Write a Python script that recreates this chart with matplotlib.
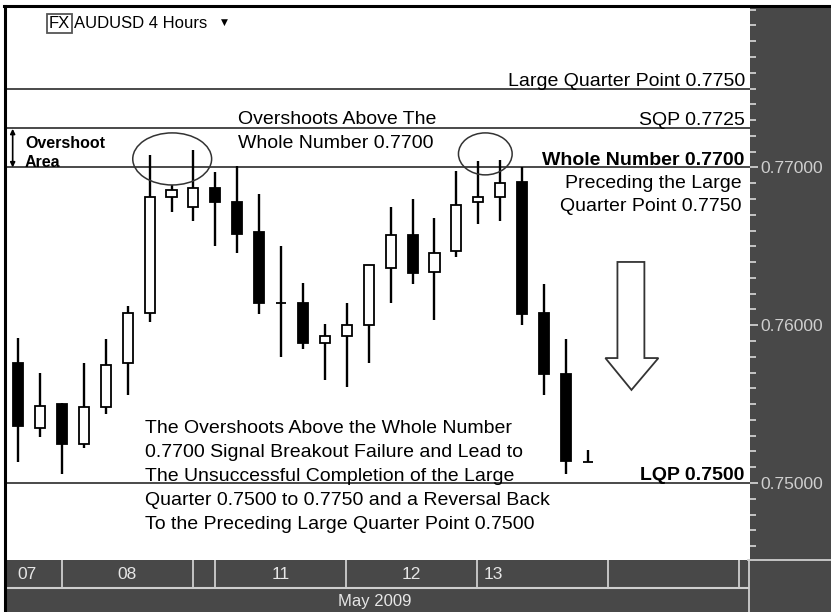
import matplotlib
matplotlib.use("Agg")
import matplotlib.pyplot as plt
from matplotlib.patches import Rectangle, Ellipse, Polygon
from matplotlib.lines import Line2D
from matplotlib.ticker import FixedLocator, MultipleLocator, FormatStrFormatter

plt.rcParams['font.family'] = ['Liberation Sans', 'DejaVu Sans']

# ---------------------------------------------------------------------------
# data: AUDUSD 4h candles, 7-13 May 2009
# ---------------------------------------------------------------------------
opens  = [0.7576, 0.7535, 0.7550, 0.7525, 0.7548, 0.7576, 0.7608, 0.7681, 0.7675,
          0.7687, 0.7678, 0.7659, 0.7614, 0.7614, 0.7589, 0.7593, 0.7600, 0.7636,
          0.7657, 0.7634, 0.7647, 0.7678, 0.7681, 0.7691, 0.7608, 0.7569, 0.7513]
highs  = [0.7592, 0.7570, 0.7551, 0.7576, 0.7591, 0.7612, 0.7708, 0.7689, 0.7711,
          0.7697, 0.7701, 0.7683, 0.7650, 0.7627, 0.7601, 0.7614, 0.7638, 0.7675,
          0.7680, 0.7668, 0.7698, 0.7704, 0.7705, 0.7700, 0.7626, 0.7591, 0.7521]
lows   = [0.7513, 0.7529, 0.7506, 0.7522, 0.7544, 0.7556, 0.7602, 0.7672, 0.7666,
          0.7650, 0.7646, 0.7607, 0.7580, 0.7585, 0.7565, 0.7561, 0.7576, 0.7614,
          0.7626, 0.7603, 0.7643, 0.7664, 0.7666, 0.7600, 0.7556, 0.7506, 0.7513]
closes = [0.7536, 0.7549, 0.7525, 0.7548, 0.7575, 0.7608, 0.7681, 0.7686, 0.7687,
          0.7678, 0.7658, 0.7614, 0.7614, 0.7589, 0.7593, 0.7600, 0.7638, 0.7657,
          0.7633, 0.7646, 0.7676, 0.7681, 0.7690, 0.7607, 0.7569, 0.7514, 0.7513]

price_ticks = [0.75, 0.76, 0.77]

levels = [0.7750, 0.7725, 0.7700, 0.7500]
level_labels = ["Large Quarter Point 0.7750", "SQP 0.7725", "Whole Number 0.7700", "LQP 0.7500"]
level_bold = [False, False, True, True]

day_breaks = [2, 8, 9, 15, 21, 27, 33]
day_labels = ["07", "08", "11", "12", "13"]
day_label_x = [0.4, 5, 12, 18, 21.3]
month_label = "May 2009"

note_top = "Overshoots Above The\nWhole Number 0.7700"
note_right = "Preceding the Large\nQuarter Point 0.7750"
note_bottom = ["The Overshoots Above the Whole Number",
               "0.7700 Signal Breakout Failure and Lead to",
               "The Unsuccessful Completion of the Large",
               "Quarter 0.7500 to 0.7750 and a Reversal Back",
               "To the Preceding Large Quarter Point 0.7500"]

# ---------------------------------------------------------------------------
W, H = 831, 612
DARK = '#484848'
LIGHT = '#cfcfcf'


def px_box(x0, y0, x1, y1):
    return [x0 / W, 1 - y1 / H, (x1 - x0) / W, (y1 - y0) / H]


fig = plt.figure(figsize=(W / 100, H / 100), dpi=100, facecolor=DARK)
fig.patches.append(Rectangle((0, 1 - 6 / H), 1, 6 / H, transform=fig.transFigure,
                             facecolor='white', edgecolor='none'))
fig.patches.append(Rectangle((0, 0), 4 / W, 1, transform=fig.transFigure,
                             facecolor='white', edgecolor='none'))

ax = fig.add_axes(px_box(5, 7, 750, 560), facecolor='white')
ax.set_xlim(-0.6, 33.4)
ax.set_ylim(0.74512, 0.78017)
for s in ax.spines.values():
    s.set_visible(False)
ax.set_xticks([])
ax.yaxis.tick_right()
ax.yaxis.set_major_locator(FixedLocator(price_ticks))
ax.yaxis.set_minor_locator(MultipleLocator(0.001))
ax.yaxis.set_major_formatter(FormatStrFormatter('%.5f'))
ax.tick_params(axis='y', which='major', length=6, width=1.3, colors=LIGHT,
               labelsize=12.5, pad=1.5)
ax.tick_params(axis='y', which='minor', length=4, width=1.3, colors=LIGHT)

# quarter point lines + labels
for lv, txt, bold in zip(levels, level_labels, level_bold):
    ax.axhline(lv, color='#2a2a2a', lw=1.2, zorder=1)
    ax.annotate(txt, xy=(0.993, lv), xycoords=('axes fraction', 'data'),
                xytext=(0, 2), textcoords='offset points', ha='right', va='baseline',
                fontsize=14, fontweight='bold' if bold else 'normal', color='black')

# candles
x = list(range(len(opens)))
ax.vlines(x, lows, highs, color='black', lw=1.7, zorder=2)
for i, (o, c) in enumerate(zip(opens, closes)):
    fc = 'white' if c >= o else 'black'
    ax.bar(i, abs(c - o), bottom=min(o, c), width=0.46, color=fc,
           edgecolor='black', lw=1.3, zorder=3)

# annotations
ax.add_patch(Ellipse((7.03, 0.77054), 3.6, 0.0033, fill=False, ec='#333', lw=1.1, zorder=4))
ax.add_patch(Ellipse((21.32, 0.77086), 2.45, 0.00266, fill=False, ec='#333', lw=1.1, zorder=4))
ax.add_patch(Polygon([(27.35, 0.76401), (28.58, 0.76401), (28.58, 0.75792), (29.22, 0.75792),
                      (27.99, 0.7559), (26.8, 0.75792), (27.35, 0.75792)],
                     closed=True, facecolor='white', edgecolor='#333', lw=1.3, zorder=4))
ax.annotate('', xy=(-0.25, 0.7700), xytext=(-0.25, 0.77245),
            arrowprops=dict(arrowstyle='<|-|>', color='black', lw=1.2,
                            mutation_scale=7, shrinkA=0, shrinkB=0))


def axp(px, py):
    return ((px - 5) / 745, (560 - py) / 553)


ax.text(*axp(25, 148), "Overshoot", transform=ax.transAxes, fontsize=11.5,
        fontweight='bold', va='baseline', ha='left')
ax.text(*axp(25, 167), "Area", transform=ax.transAxes, fontsize=11.5,
        fontweight='bold', va='baseline', ha='left')

for k, line in enumerate(note_top.split("\n")):
    ax.text(*axp(238, 124 + 24 * k), line, transform=ax.transAxes, fontsize=14,
            va='baseline', ha='left', color='black')
for k, line in enumerate(note_right.split("\n")):
    ax.text(*axp(742, 188 + 23 * k), line, transform=ax.transAxes, fontsize=14,
            va='baseline', ha='right', color='black')
for k, line in enumerate(note_bottom):
    ax.text(*axp(145, 433 + 24 * k), line, transform=ax.transAxes, fontsize=14,
            va='baseline', ha='left', color='black')

# title
fig.text(49 / W, 1 - 23 / H, "FX", fontsize=12, va='center', ha='left',
         bbox=dict(boxstyle='square,pad=0.12', fc='white', ec='#555', lw=1.3))
fig.text(74 / W, 1 - 23 / H, "AUDUSD 4 Hours", fontsize=12, va='center', ha='left')
fig.text(221 / W, 1 - 22 / H, "\u25bc", fontsize=6.5, va='center', ha='left',
         family='DejaVu Sans')

# date bar
dax = fig.add_axes(px_box(5, 560, 748, 587), facecolor=DARK)
dax.set_xlim(ax.get_xlim())
dax.set_ylim(0, 1)
dax.set_xticks([])
dax.set_yticks([])
for s in dax.spines.values():
    s.set_visible(False)
for b in day_breaks:
    dax.axvline(b, color=LIGHT, lw=1.3)
for lab, lx in zip(day_labels, day_label_x):
    dax.text(lx, 0.45, lab, ha='left' if lab == "13" else 'center', va='center',
             fontsize=12.5, color='#e6e6e6')

# month bar
mbar = fig.add_axes(px_box(5, 589, 748, 612), facecolor=DARK)
mbar.set_xticks([])
mbar.set_yticks([])
for s in mbar.spines.values():
    s.set_visible(False)
mbar.text((375 - 5) / 743, 0.45, month_label, ha='center', va='center',
          fontsize=12, color='#e6e6e6', transform=mbar.transAxes)

# frame lines
fig.add_artist(Line2D([5 / W, 748 / W], [1 - 588 / H] * 2, transform=fig.transFigure,
                      color=LIGHT, lw=1.5))
fig.add_artist(Line2D([748 / W, 831 / W], [1 - 560 / H] * 2, transform=fig.transFigure,
                      color=LIGHT, lw=1.3))
fig.add_artist(Line2D([748.5 / W] * 2, [0, 1 - 560 / H], transform=fig.transFigure,
                      color=LIGHT, lw=1.3))
fig.add_artist(Line2D([4 / W, 1], [1 - 6 / H] * 2, transform=fig.transFigure,
                      color='black', lw=2.2))
fig.add_artist(Line2D([5 / W] * 2, [0, 1 - 6 / H], transform=fig.transFigure,
                      color='black', lw=2.2))

fig.savefig("out.png", dpi=100, facecolor=fig.get_facecolor())
